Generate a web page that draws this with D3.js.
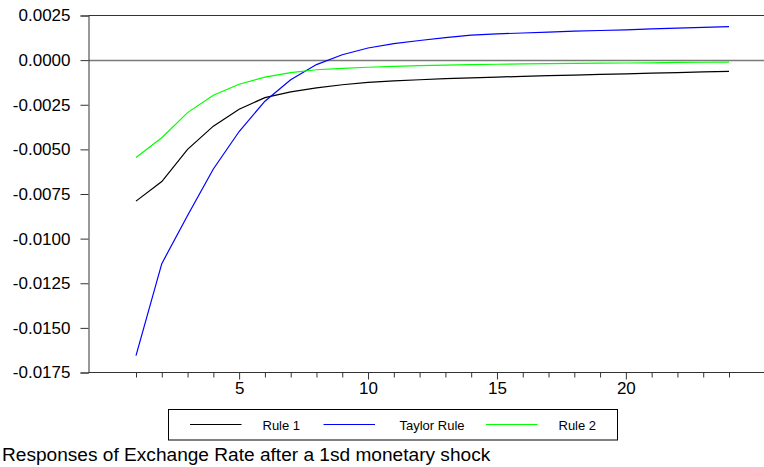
<!DOCTYPE html>
<html>
<head>
<meta charset="utf-8">
<script src="https://cdn.jsdelivr.net/npm/d3@7"></script>
<style>
  html, body { margin: 0; padding: 0; background: #fff; }
  svg { display: block; font-family: "Liberation Sans", Arial, sans-serif; }
</style>
</head>
<body>
<svg id="chart" width="764" height="467"></svg>
<script>
// ---- data ----
const periods = d3.range(1, 25);
const rule1 = [-0.0079, -0.0068, -0.0050, -0.0037, -0.00275, -0.0021, -0.00178, -0.00155,
  -0.00138, -0.00125, -0.00116, -0.00110, -0.00104, -0.00099, -0.00095, -0.00091,
  -0.00087, -0.00084, -0.00080, -0.00077, -0.00073, -0.00070, -0.00066, -0.00063];
const taylorRule = [-0.01655, -0.0114, -0.0087, -0.0061, -0.0040, -0.0023, -0.0011, -0.00025,
  0.0003, 0.00068, 0.00092, 0.0011, 0.00126, 0.0014, 0.00147, 0.00152,
  0.00157, 0.00162, 0.00166, 0.0017, 0.00175, 0.00179, 0.00184, 0.00188];
const rule2 = [-0.00545, -0.00435, -0.00294, -0.00197, -0.00135, -0.00095, -0.0007, -0.00054,
  -0.00046, -0.0004, -0.00035, -0.00031, -0.00028, -0.00025, -0.00023, -0.00021,
  -0.0002, -0.00018, -0.00017, -0.00016, -0.00015, -0.00013, -0.00012, -0.00011];
const seriesNames = ["Rule 1", "Taylor Rule", "Rule 2"];
const seriesColors = ["#000000", "#0000ff", "#00ff00"];
const yTicks = [0.0025, 0, -0.0025, -0.005, -0.0075, -0.01, -0.0125, -0.015, -0.0175];
const xTickLabels = [5, 10, 15, 20];
const caption = "Responses of Exchange Rate after a 1sd monetary shock";

const series = [rule1, taylorRule, rule2];

// ---- layout ----
const svg = d3.select("#chart");
const pLeft = 88.5, pTop = 15.5, pBottom = 372.5, pRight = 764;
const x = d3.scaleLinear().domain([1, 24]).range([136, 729]);
const y = d3.scaleLinear().domain([-0.0175, 0.0025]).range([pBottom, pTop]);

const loc = d3.formatLocale({decimal: ".", thousands: ",", grouping: [3], currency: ["", ""], minus: "-"});
const fmt = loc.format(".4f");

// zero line
svg.append("line").attr("x1", pLeft).attr("x2", pRight)
  .attr("y1", Math.round(y(0)) + 0.5).attr("y2", Math.round(y(0)) + 0.5)
  .attr("stroke", "#7a7a7a").attr("stroke-width", 1.6);

// top border
svg.append("line").attr("x1", pLeft).attr("x2", pRight).attr("y1", pTop).attr("y2", pTop)
  .attr("stroke", "#333").attr("stroke-width", 1);

// y axis
const yAxis = d3.axisLeft(y).tickValues(yTicks).tickFormat(fmt).tickSize(8).tickPadding(10);
const gy = svg.append("g").attr("transform", `translate(${pLeft},0)`).call(yAxis);
gy.select(".domain").attr("stroke", "#333");
gy.selectAll(".tick line").attr("stroke", "#333");
gy.selectAll(".tick text").attr("font-size", 17).attr("fill", "#000")
  .attr("font-family", "Liberation Sans, Arial, sans-serif");

// x axis (minor ticks every period, labelled every 5)
const gx = svg.append("g").attr("transform", `translate(0,${pBottom})`);
gx.append("line").attr("x1", pLeft).attr("x2", pRight).attr("y1", 0).attr("y2", 0).attr("stroke", "#333");
const xAxis = d3.axisBottom(x).tickValues(periods)
  .tickFormat(d => xTickLabels.includes(d) ? d : "").tickSize(5).tickPadding(8);
const gxa = gx.append("g").call(xAxis);
gxa.select(".domain").remove();
gxa.selectAll(".tick line").attr("stroke", "#333")
  .attr("y2", d => xTickLabels.includes(d) ? 7 : 5);
gxa.selectAll(".tick text").attr("font-size", 17).attr("fill", "#000")
  .attr("font-family", "Liberation Sans, Arial, sans-serif").attr("dy", "0.75em").attr("y", 9);

// lines
const line = d3.line().x((d, i) => x(periods[i])).y(d => y(d));
series.forEach((s, k) => {
  svg.append("path").datum(s).attr("d", line).attr("fill", "none")
    .attr("stroke", seriesColors[k]).attr("stroke-width", 1.2);
});

// legend
const lg = svg.append("g");
lg.append("rect").attr("x", 168.5).attr("y", 409.5).attr("width", 449).attr("height", 30.5)
  .attr("fill", "#fff").attr("stroke", "#000").attr("stroke-width", 1);
const legX = [190, 323.5, 486];
const legTextX = [262.5, 399.5, 558.5];
seriesNames.forEach((n, k) => {
  lg.append("line").attr("x1", legX[k]).attr("x2", legX[k] + 51.5)
    .attr("y1", 424.5).attr("y2", 424.5).attr("stroke", seriesColors[k]).attr("stroke-width", 1.2);
  lg.append("text").attr("x", legTextX[k]).attr("y", 429.5).attr("font-size", 13)
    .attr("fill", "#000").text(n);
});

// caption
svg.append("text").attr("x", 2).attr("y", 460.5).attr("font-size", 19.1).attr("fill", "#000").text(caption);
</script>
</body>
</html>
